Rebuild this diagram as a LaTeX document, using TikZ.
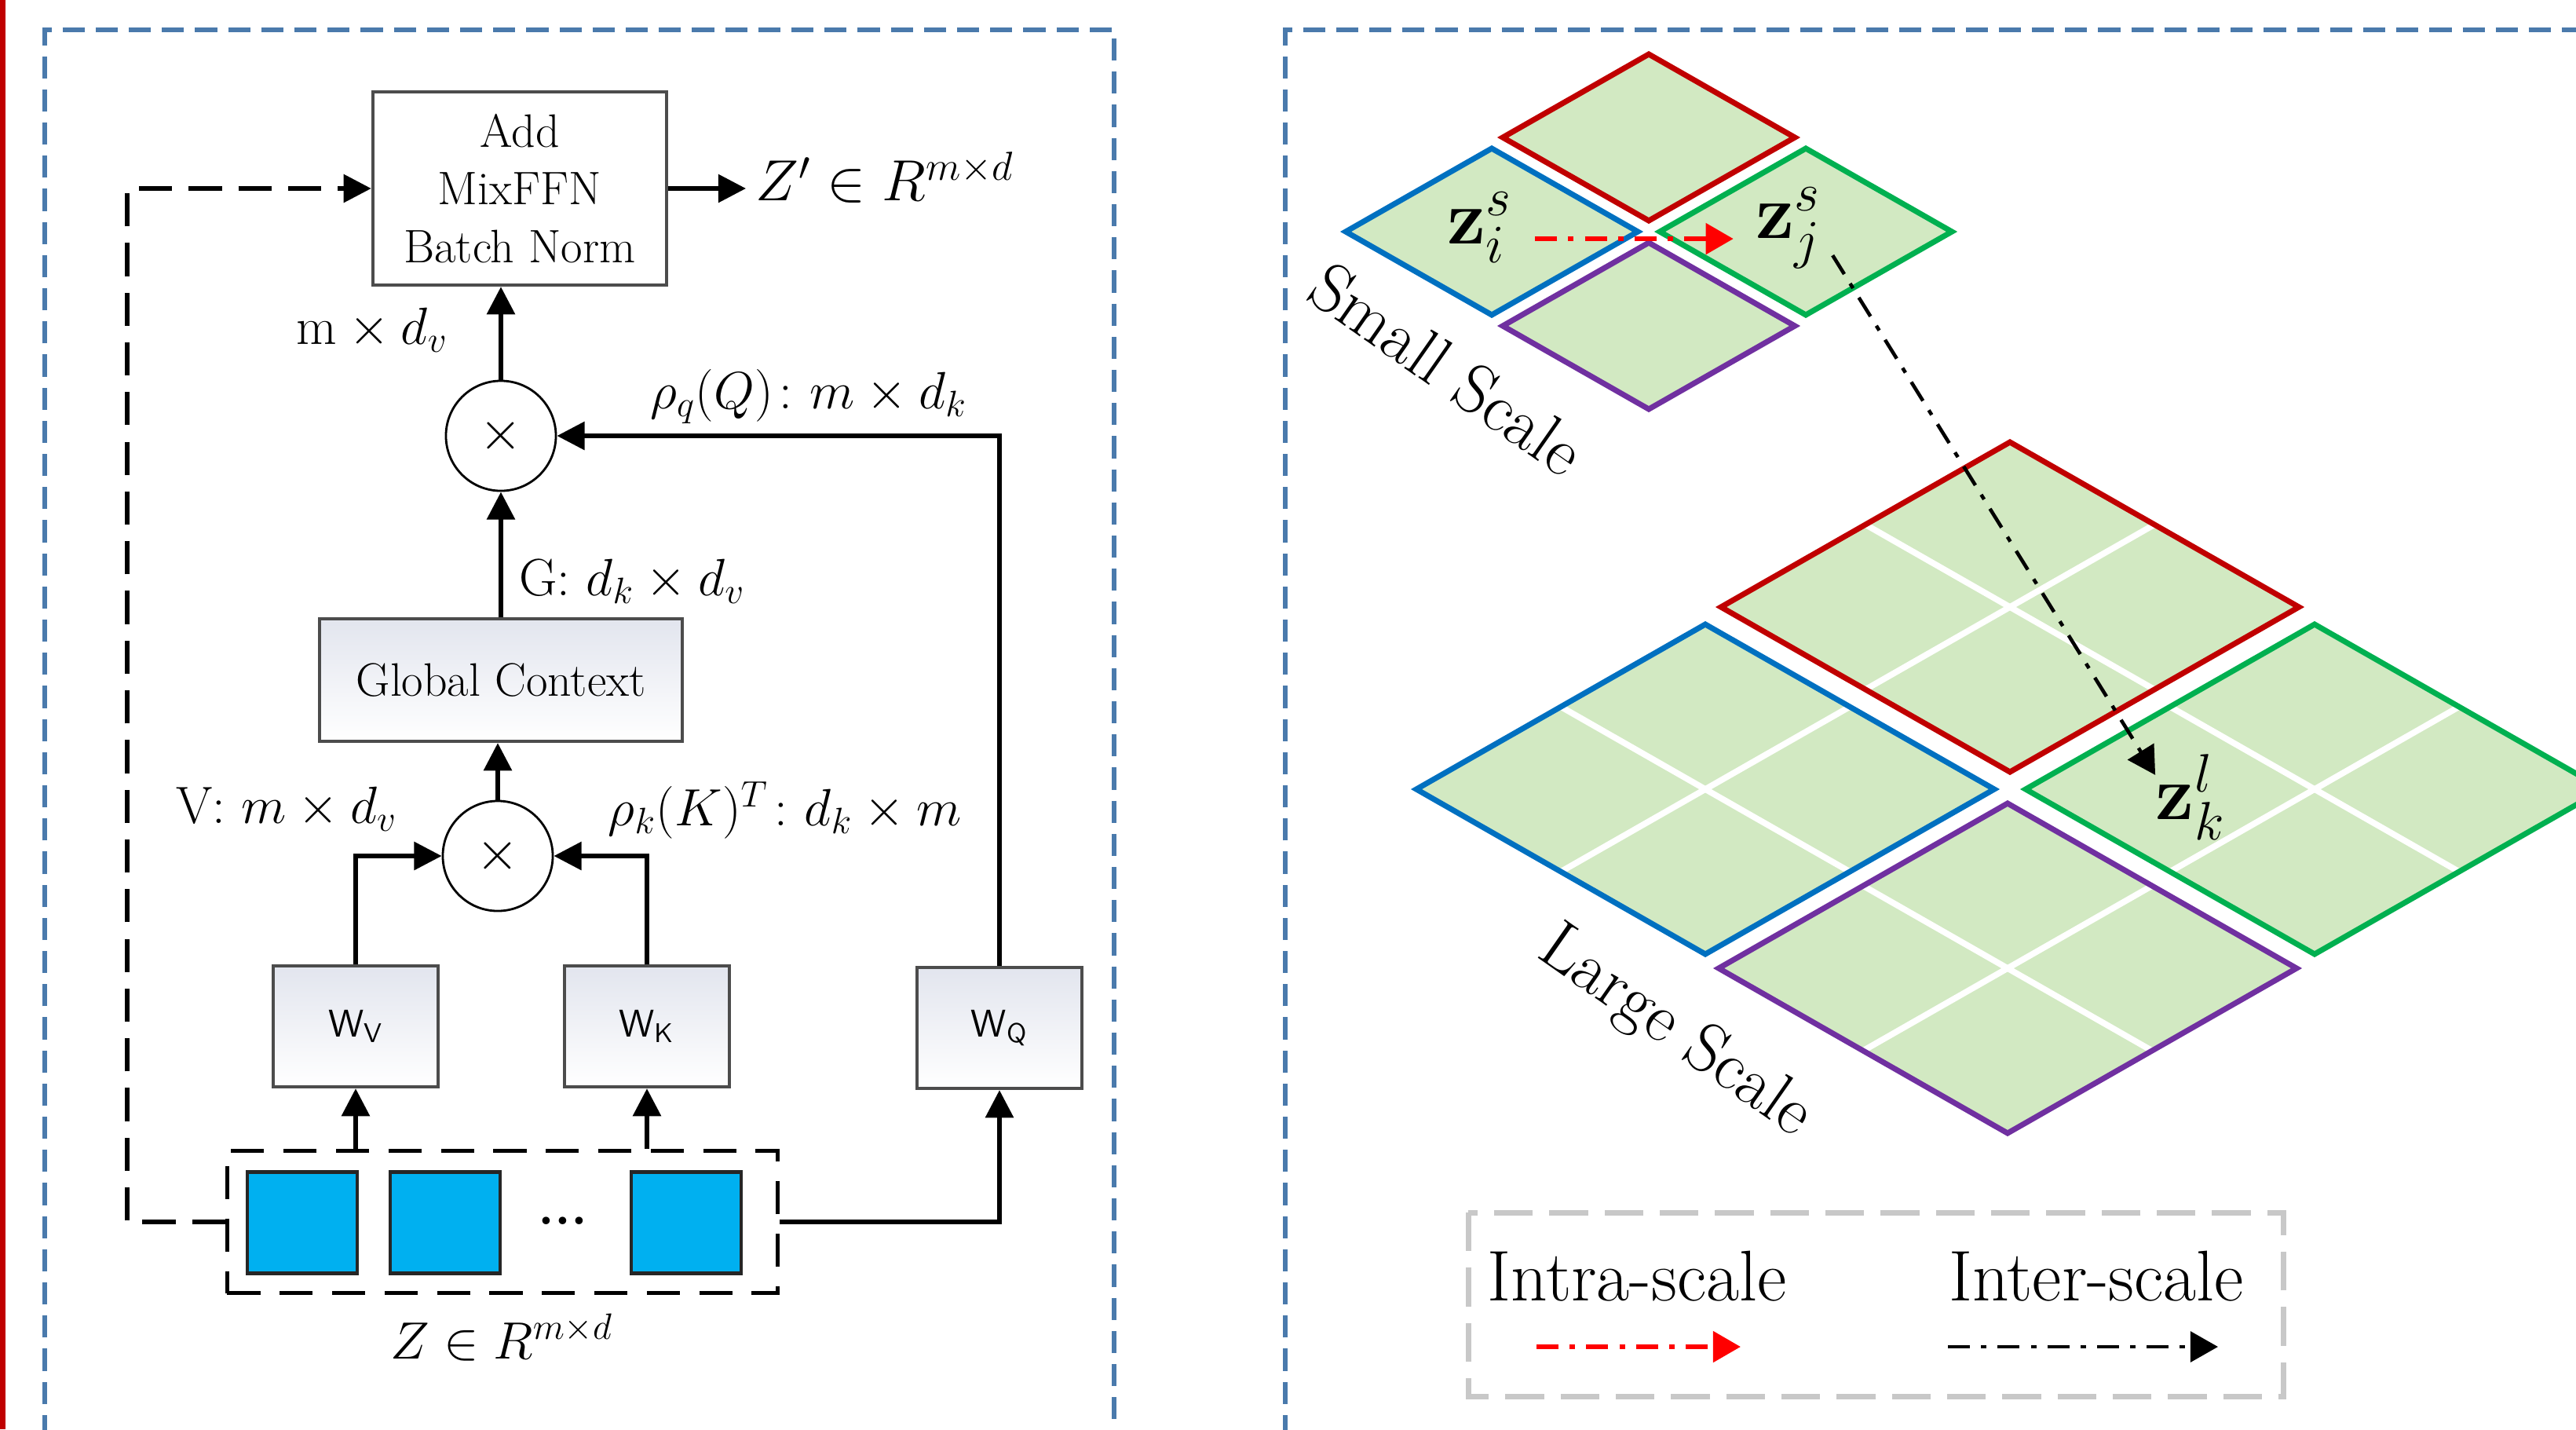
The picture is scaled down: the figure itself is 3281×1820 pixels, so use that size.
\RequirePackage{fix-cm}
\documentclass[tikz,border=0pt]{standalone}
\usepackage{amsmath}
\usepackage{tikz}
\usetikzlibrary{calc,arrows.meta}

\definecolor{framecol}{RGB}{74,122,172}
\definecolor{legcol}{RGB}{200,200,200}
\definecolor{tilefill}{RGB}{210,233,194}
\definecolor{cellcol}{RGB}{0,176,240}
\definecolor{tred}{RGB}{192,0,0}
\definecolor{tblue}{RGB}{0,112,192}
\definecolor{tgreen}{RGB}{0,176,80}
\definecolor{tpurple}{RGB}{112,48,160}
\definecolor{boxtop}{RGB}{226,229,238}

\tikzset{
  opbox/.style={draw=black!70, line width=1.2pt, top color=boxtop, bottom color=white,
    inner sep=0pt, align=center, font=\fontsize{17}{21}\selectfont},
  wbox/.style={opbox, minimum width=2.1cm, minimum height=1.54cm,
    font=\sffamily\fontsize{14}{16}\selectfont},
  mulnode/.style={circle, draw, line width=0.8pt, minimum size=1.4cm, inner sep=0pt,
    font=\fontsize{20}{24}\selectfont},
  cell/.style={draw=black!85, line width=1.2pt, fill=cellcol, minimum width=1.4cm,
    minimum height=1.29cm, inner sep=0pt},
  arr/.style={line width=1.6pt, -{Triangle[length=10pt,width=10pt]}},
  skiparr/.style={arr, dash pattern=on 12pt off 6pt},
  lbl/.style={font=\fontsize{19}{23}\selectfont},
  zlbl/.style={font=\fontsize{28}{32}\selectfont, inner sep=8pt},
  scalelbl/.style={rotate=-35, font=\fontsize{25}{29}\selectfont},
  legtxt/.style={font=\fontsize{26}{30}\selectfont},
  frame/.style={framecol, line width=1.5pt, dash pattern=on 8pt off 4pt},
  intraarr/.style={red, line width=1.8pt, dash pattern=on 8pt off 4pt on 2pt off 4pt,
    -{Triangle[length=10pt,width=11pt]}},
  interarr/.style={black, line width=1.3pt, dash pattern=on 8pt off 4pt on 2pt off 4pt,
    -{Triangle[length=10pt,width=11pt]}}
}

\begin{document}
\begin{tikzpicture}[x=0.01cm,y=-0.01cm]
  \useasboundingbox (0,0) rectangle (3281,1820);
  % frames
  \fill[tred] (0,0) rectangle (7,1820);
  \draw[frame] (57,1830) -- (57,38) -- (1419,38) -- (1419,1830);
  \draw[frame] (1637,1830) -- (1637,38) -- (3290,38);

  % left part
  \node[opbox, top color=white, minimum width=3.74cm, minimum height=2.46cm] (ffn) at (662,240) {Add\\MixFFN\\Batch Norm};
  \node[lbl, anchor=west, font=\fontsize{21}{25}\selectfont] (zout) at (950,226) {$Z' \in R^{m\times d}$};
  \node[mulnode] (mul1) at (638,555) {$\times$};
  \node[opbox, minimum width=4.61cm, minimum height=1.56cm] (gc) at (638,866) {Global Context};
  \node[mulnode] (mul2) at (634,1090) {$\times$};
  \node[wbox] (wv) at (453,1307) {W\textsubscript{V}};
  \node[wbox] (wk) at (824,1307) {W\textsubscript{K}};
  \node[wbox] (wq) at (1273,1309) {W\textsubscript{Q}};
  \node[draw, line width=1.4pt, dash pattern=on 12pt off 7pt, minimum width=7.01cm, minimum height=1.81cm] (zbox) at (640,1556) {};
  \node[cell] (c1) at (385,1557) {};
  \node[cell] (c2) at (567,1557) {};
  \node[cell] (c3) at (874,1557) {};
  \node[lbl] (dots) at (717,1555) {\textbf{...}};
  \node[lbl] (zin) at (639,1703) {$Z \in R^{m\times d}$};

  \node[lbl] (mdv) at (474,420) {$\mathrm{m}\times d_v$};
  \node[lbl] (rq) at (1030,505) {$\rho_q(Q)\colon m\times d_k$};
  \node[lbl] (gl) at (805,740) {G: $d_k\times d_v$};
  \node[lbl] (vl) at (365,1030) {V: $m\times d_v$};
  \node[lbl] (rk) at (1000,1032) {$\rho_k(K)^T\colon d_k\times m$};

  \draw[arr] (ffn.east) -- (ffn.east -| zout.west);
  \draw[arr] (mul1.north) -- (mul1.north |- ffn.south);
  \draw[arr] (gc.north) -- (mul1.south);
  \draw[arr] (mul2.north) -- (mul2.north |- gc.south);
  \draw[arr] (wv.north) |- (mul2.west);
  \draw[arr] (wk.north) |- (mul2.east);
  \draw[arr] (wq.north) |- (mul1.east);
  \draw[arr] (wv.south |- zbox.north) -- (wv.south);
  \draw[arr] (wk.south |- zbox.north) -- (wk.south);
  \draw[arr] (zbox.east) -| (wq.south);
  \coordinate (skip) at (162,1556);
  \draw[skiparr] (zbox.west) -- (skip) |- (ffn.west);

  % small scale tiles
  \foreach \cx/\cy/\col in {2100/175/tred, 1900/295/tblue, 2300/295/tgreen, 2100/415/tpurple}
    \filldraw[fill=tilefill, draw=\col, line width=2pt] (\cx,\cy-106) -- (\cx+186,\cy) -- (\cx,\cy+106) -- (\cx-186,\cy) -- cycle;

  % large scale tiles
  \foreach \cx/\cy/\col in {2560/773/tred, 2172/1005/tblue, 2948/1005/tgreen, 2557/1233/tpurple} {
    \fill[tilefill] (\cx,\cy-210) -- (\cx+368,\cy) -- (\cx,\cy+210) -- (\cx-368,\cy) -- cycle;
    \draw[white, line width=2.2pt] (\cx+184,\cy-105) -- (\cx-184,\cy+105);
    \draw[white, line width=2.2pt] (\cx-184,\cy-105) -- (\cx+184,\cy+105);
    \draw[\col, line width=2pt] (\cx,\cy-210) -- (\cx+368,\cy) -- (\cx,\cy+210) -- (\cx-368,\cy) -- cycle;
  }

  \node[zlbl] (zis) at (1885,290) {$\mathbf{z}_i^s$};
  \node[zlbl] (zjs) at (2278,290) {$\mathbf{z}_j^s$};
  \node[zlbl] (zkl) at (2790,1015) {$\mathbf{z}_k^l$};
  \node[scalelbl] (small) at (1843,470) {Small Scale};
  \node[scalelbl] (large) at (2133,1315) {Large Scale};

  \draw[intraarr] ([yshift=-4pt]zis.east) -- ([yshift=-4pt]zjs.west);
  \draw[interarr] ([xshift=-4pt,yshift=-10pt]zjs.east) -- ([xshift=8pt,yshift=8pt]zkl.west);

  % legend
  \draw[legcol, line width=2pt, dash pattern=on 14pt off 6pt] (1870,1544) rectangle (2908,1778);
  \node[legtxt] (intra) at (2085,1625) {Intra-scale};
  \node[legtxt] (inter) at (2670,1625) {Inter-scale};
  \coordinate (ia) at (1957,1715);
  \coordinate (ib) at (2217,1715);
  \coordinate (ea) at (2481,1715);
  \coordinate (eb) at (2825,1715);
  \draw[intraarr] (ia) -- (ib);
  \draw[interarr] (ea) -- (eb);
\end{tikzpicture}
\end{document}
